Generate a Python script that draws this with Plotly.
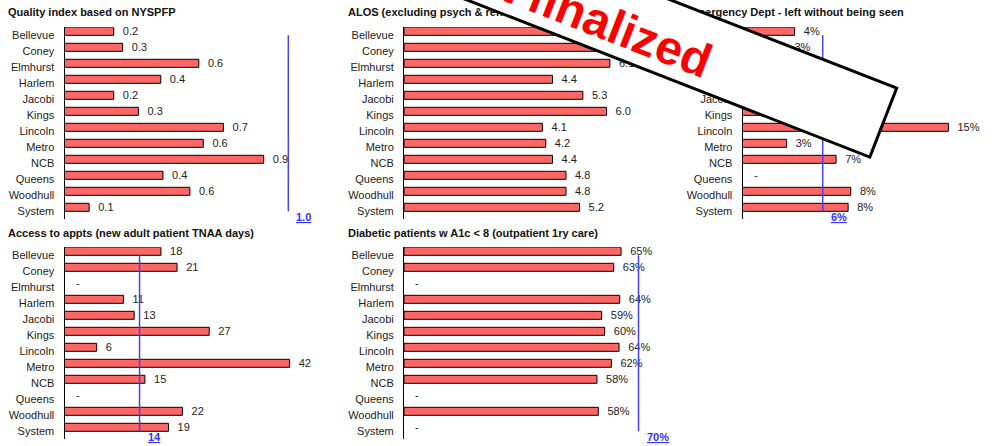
import math
import plotly.graph_objects as go

W, H = 1005, 446

hospitals = ["Bellevue", "Coney", "Elmhurst", "Harlem", "Jacobi", "Kings", "Lincoln",
             "Metro", "NCB", "Queens", "Woodhull", "System"]

quality = [0.22, 0.26, 0.60, 0.43, 0.22, 0.33, 0.71, 0.62, 0.89, 0.44, 0.56, 0.11]
quality_target = 1.0

alos = [5.6, 6.2, 6.1, 4.4, 5.3, 6.0, 4.1, 4.2, 4.4, 4.8, 4.8, 5.2]

ed_lwbs = [0.039, 0.032, 0.04, 0.05, 0.05, 0.06, 0.154, 0.033, 0.070, None, 0.081, 0.079]
ed_target = 0.06

access_days = [18, 21, None, 11, 13, 27, 6, 42, 15, None, 22, 19.4]
access_target = 14

diabetic = [0.648, 0.626, None, 0.644, 0.590, 0.599, 0.642, 0.619, 0.576, None, 0.580, None]
diabetic_target = 0.70

titles = ["Quality index based on NYSPFP",
          "ALOS (excluding psych & rehab)",
          "Emergency Dept - left without being seen",
          "Access to appts (new adult patient TNAA days)",
          "Diabetic patients w A1c &lt; 8 (outpatient 1ry care)"]

FONT = "Arial, Liberation Sans, sans-serif"
BAR = "#FF6666"
TARGET = "#4646E8"
TLABEL = "#3333FF"
NB = "\u00a0\u00a0"

panels = [
    dict(v=quality, fmt=lambda x: f"{x:.1f}", t=quality_target, tl="1.0", ax="", dom=(64.5, 333.1), rng=(0, 1.2), row=0),
    dict(v=alos, fmt=lambda x: f"{x:.1f}", t=None, tl=None, ax="2", dom=(404, 674), rng=(0, 8), row=0),
    dict(v=ed_lwbs, fmt=lambda x: f"{x*100:.0f}%", t=ed_target, tl="6%", ax="3", dom=(742.5, 996.5), rng=(0, 0.19), row=0),
    dict(v=access_days, fmt=lambda x: f"{x:.0f}", t=access_target, tl="14", ax="4", dom=(64.5, 332.5), rng=(0, 50), row=1),
    dict(v=diabetic, fmt=lambda x: f"{x*100:.0f}%", t=diabetic_target, tl="70%", ax="5", dom=(404, 672), rng=(0, 0.8), row=1),
]
row_px = [(27.3, 219.3), (247.3, 439.3)]

fig = go.Figure()
annotations = []
layout = {}

for p in panels:
    xa, ya = "x" + p["ax"], "y" + p["ax"]
    texts = [NB + p["fmt"](v) if v is not None else "" for v in p["v"]]
    fig.add_trace(go.Bar(
        orientation="h", x=p["v"], y=hospitals, width=0.5, offset=-0.5,
        marker=dict(color=BAR, line=dict(color="black", width=1)),
        text=texts, textposition="outside", constraintext="none", cliponaxis=False,
        textfont=dict(size=11, color="#222222", family=FONT),
        hoverinfo="skip", xaxis=xa, yaxis=ya))
    for name, v in zip(hospitals, p["v"]):
        if v is None:
            annotations.append(dict(x=0, y=name, xref=xa, yref=ya, text="-", showarrow=False,
                                    xanchor="left", yanchor="middle", xshift=9, yshift=4,
                                    font=dict(size=11, color="#222222", family=FONT)))
    if p["t"] is not None:
        fig.add_trace(go.Scatter(x=[p["t"], p["t"]], y=[hospitals[0], hospitals[-1]], mode="lines",
                                 line=dict(color=TARGET, width=1.5), hoverinfo="skip",
                                 cliponaxis=False, xaxis=xa, yaxis=ya))
        annotations.append(dict(x=p["t"], y=0, xref=xa, yref=ya + " domain", showarrow=False,
                                text="<b><u>" + p["tl"] + "</u></b>", xanchor="left", yanchor="middle",
                                xshift=6, yshift=2, font=dict(size=11, color=TLABEL, family=FONT)))
    y0, y1 = row_px[p["row"]]
    key = p["ax"]
    layout["xaxis" + key] = dict(domain=[p["dom"][0] / W, p["dom"][1] / W], range=list(p["rng"]),
                                 visible=False, anchor=ya, fixedrange=True)
    layout["yaxis" + key] = dict(domain=[1 - y1 / H, 1 - y0 / H], anchor=xa, type="category",
                                 categoryorder="array", categoryarray=hospitals, range=[11.5, -0.5],
                                 showline=True, linecolor="black", linewidth=1, showgrid=False,
                                 zeroline=False, ticks="", ticklabelstandoff=7,
                                 tickfont=dict(size=11, color="#222222", family=FONT), fixedrange=True)

# titles (text trace on an overlay axis, so the banner can cover them)
title_x = [8, 348, 688, 8, 348]
title_y = [13.6, 13.6, 13.6, 234, 234]
fig.add_trace(go.Scatter(x=title_x, y=title_y, mode="text", text=["<b>" + t + "</b>" for t in titles],
                         textposition="middle right", textfont=dict(size=11, color="#111111", family=FONT),
                         hoverinfo="skip", cliponaxis=False, xaxis="x6", yaxis="y6"))
layout["xaxis6"] = dict(domain=[0, 1], range=[0, W], visible=False, anchor="y6", fixedrange=True)
layout["yaxis6"] = dict(domain=[0, 1], range=[H, 0], visible=False, anchor="x6", fixedrange=True)

# "Not finalized" banner
ang = 21.3
ux, uy = math.cos(math.radians(ang)), math.sin(math.radians(ang))
nx, ny = -uy, ux
Rx, Ry = 882.9 - 1.0 * nx, 123.5 - 1.0 * ny
half_len, half_w = 326, 37
Cx, Cy = Rx - half_len * ux, Ry - half_len * uy
pts = []
for sl, sw in [(-1, -1), (1, -1), (1, 1), (-1, 1)]:
    px = Cx + sl * half_len * ux + sw * half_w * nx
    py = Cy + sl * half_len * uy + sw * half_w * ny
    pts.append((px / W, 1 - py / H))
path = "M " + " L ".join(f"{a:.5f},{b:.5f}" for a, b in pts) + " Z"
shapes = [dict(type="path", path=path, xref="paper", yref="paper", fillcolor="white",
               line=dict(color="black", width=3), layer="above")]
Tx, Ty = Cx + 8 * nx, Cy + 8 * ny
annotations.append(dict(x=Tx / W, y=1 - Ty / H, xref="paper", yref="paper", text="<b>Not finalized</b>",
                        textangle=ang, showarrow=False, xanchor="center", yanchor="middle",
                        font=dict(size=48, color="#FF0000", family=FONT)))

fig.update_layout(width=W, height=H, margin=dict(l=0, r=0, t=0, b=0), paper_bgcolor="white",
                  plot_bgcolor="rgba(0,0,0,0)", showlegend=False, font=dict(family=FONT),
                  annotations=annotations, shapes=shapes, **layout)

fig.write_html("out.html")
